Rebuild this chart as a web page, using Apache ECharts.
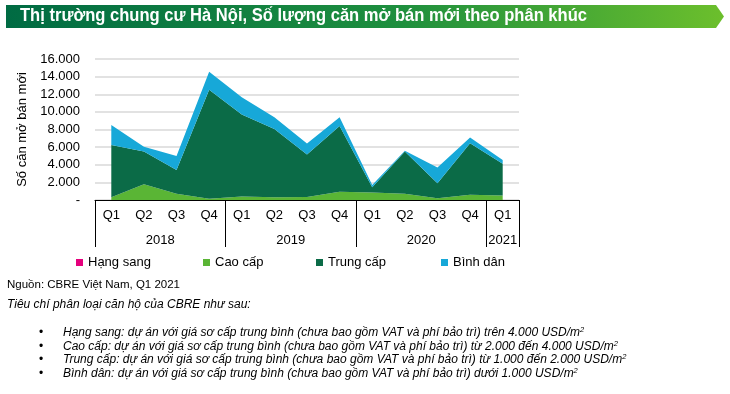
<!DOCTYPE html>
<html>
<head>
<meta charset="utf-8">
<script src="https://cdn.jsdelivr.net/npm/echarts@6/dist/echarts.min.js"></script>
<style>
html,body{margin:0;padding:0;background:#fff;}
#chart{width:730px;height:394px;}
</style>
</head>
<body>
<div id="chart"></div>
<script>
// ---- data ----
const quarters = ['Q1','Q2','Q3','Q4','Q1','Q2','Q3','Q4','Q1','Q2','Q3','Q4','Q1'];
const years = ['2018','2019','2020','2021'];
const yearStarts = [0, 4, 8, 12, 13];          // category boundaries of each year group
const yearCenters = [2, 6, 10, 12.5];
const seriesNames = ['Hạng sang','Cao cấp','Trung cấp','Bình dân'];
const hangSang = [0,0,0,0,0,0,0,0,0,0,0,0,0];
const caoCap   = [300,1800,700,150,400,300,350,950,850,700,200,600,500];
const trungCap = [5950,3700,2700,12350,9300,7750,4800,7450,600,4800,1700,5850,3600];
const binhDan  = [2250,550,1600,2050,1950,1350,1250,1000,250,100,1800,650,450];
const yTicks = [0,2000,4000,6000,8000,10000,12000,14000,16000];

const colors = ['#e5007d','#5ab535','#0b6b47','#17a8d8'];
const chart = echarts.init(document.getElementById('chart'));

const fmt = v => v === 0 ? '-' : String(v).replace(/\B(?=(\d{3})+(?!\d))/g, '.');
const values = [hangSang, caoCap, trungCap, binhDan];

const FONT = 'Liberation Sans, Arial';
const bulletRich = {
  n: {fontFamily:FONT, fontStyle:'italic', fontSize:12, fill:'#000'},
  s: {fontFamily:FONT, fontStyle:'italic', fontSize:7.5, fill:'#000', verticalAlign:'top', padding:[0,0,6,0]}
};
const bullets = [
  'Hạng sang: dự án với giá sơ cấp trung bình (chưa bao gồm VAT và phí bảo trì) trên 4.000 USD/m',
  'Cao cấp: dự án với giá sơ cấp trung bình (chưa bao gồm VAT và phí bảo trì) từ 2.000 đến 4.000 USD/m',
  'Trung cấp: dự án với giá sơ cấp trung bình (chưa bao gồm VAT và phí bảo trì) từ 1.000 đến 2.000 USD/m',
  'Bình dân: dự án với giá sơ cấp trung bình (chưa bao gồm VAT và phí bảo trì) dưới 1.000 USD/m'
];

const graphics = [
  {
    type:'polygon',
    shape:{points:[[6,5],[716,5],[724,16.5],[716,28],[6,28]]},
    style:{fill:new echarts.graphic.LinearGradient(0,0,1,0,[{offset:0,color:'#006b43'},{offset:0.55,color:'#1e8f3e'},{offset:1,color:'#6cbf2c'}])}
  },
  {
    type:'text', x:20, y:7, scaleX:0.92,
    style:{text:'Thị trường chung cư Hà Nội, Số lượng căn mở bán mới theo phân khúc', fill:'#fff', fontFamily:FONT, fontWeight:'bold', fontSize:18}
  },
  {
    type:'text', x:7, y:279,
    style:{text:'Nguồn: CBRE Việt Nam, Q1 2021', fill:'#000', fontFamily:FONT, fontSize:11.5}
  },
  {
    type:'text', x:7, y:299,
    style:{text:'Tiêu chí phân loại căn hộ của CBRE như sau:', fill:'#000', fontFamily:FONT, fontStyle:'italic', fontSize:12}
  }
];
bullets.forEach((t, i) => {
  graphics.push({type:'text', x:39, y:327 + i*13.5, style:{text:'•', fill:'#000', fontSize:12, fontFamily:FONT}});
  graphics.push({type:'text', x:63, y:326 + i*13.5, style:{text:'{n|' + t + '}{s|2}', rich:bulletRich}});
});

const legendLefts = [71, 198, 311, 436];

chart.setOption({
  animation:false,
  color:colors,
  grid:{left:95, right:211, top:59, bottom:194},
  legend: seriesNames.map((n, i) => ({
    left:legendLefts[i], top:251, itemWidth:7, itemHeight:7, icon:'rect', itemGap:0,
    data:[n],
    textStyle:{fontFamily:FONT, fontSize:13, color:'#000'}
  })),
  xAxis:[
    {
      type:'category', data:quarters, boundaryGap:true, position:'bottom',
      axisLine:{lineStyle:{color:'#000', width:1}},
      axisTick:{show:false},
      axisLabel:{margin:9, color:'#000', fontFamily:FONT, fontSize:13, interval:0}
    },
    {
      type:'value', min:0, max:13, position:'bottom',
      axisLine:{show:false}, splitLine:{show:false},
      axisTick:{show:true, customValues:yearStarts, length:47, lineStyle:{color:'#000', width:1}},
      axisLabel:{customValues:yearCenters, margin:34, color:'#000', fontFamily:FONT, fontSize:13,
        formatter: v => years[yearCenters.indexOf(v)]}
    }
  ],
  yAxis:{
    type:'value', min:0, max:16000, interval:2000,
    name:'Số căn mở bán mới', nameLocation:'middle', nameGap:64, nameRotate:90,
    nameTextStyle:{fontFamily:FONT, fontSize:13, color:'#000'},
    axisLine:{show:false}, axisTick:{show:false},
    axisLabel:{formatter:fmt, margin:15, color:'#000', fontFamily:FONT, fontSize:13},
    splitLine:{lineStyle:{color:'#d9d9d9', width:1.5}}
  },
  series: seriesNames.map((n, i) => ({
    name:n, type:'line', stack:'total', data:values[i], xAxisIndex:0,
    symbol:'none', lineStyle:{width:0}, areaStyle:{opacity:1, color:colors[i]},
    itemStyle:{color:colors[i]}
  })),
  graphic:graphics
});
</script>
</body>
</html>
